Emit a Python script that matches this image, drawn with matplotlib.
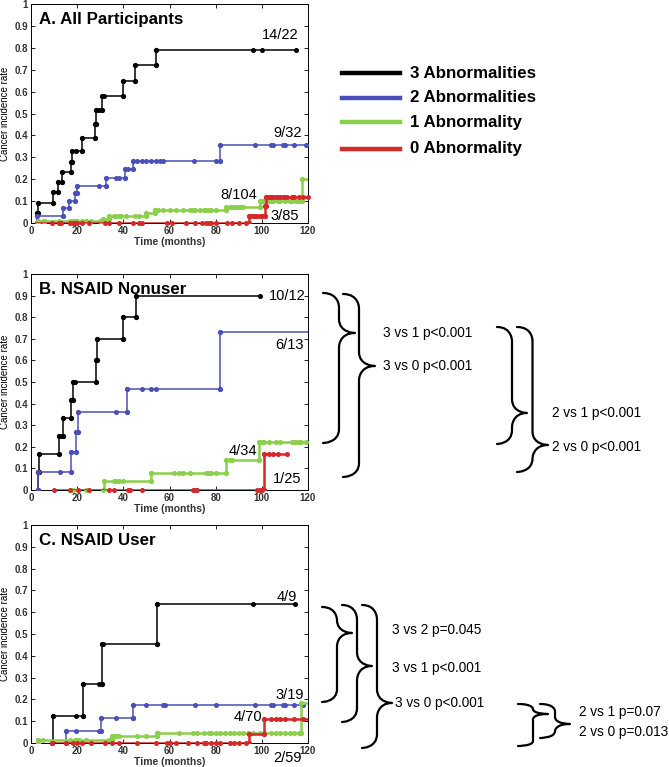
import numpy as np
import matplotlib
matplotlib.use("Agg")
import matplotlib.pyplot as plt
from matplotlib.path import Path
from matplotlib.patches import PathPatch
from matplotlib.lines import Line2D

plt.rcParams['font.family'] = ['Liberation Sans', 'DejaVu Sans']

# ---------------- data ----------------
group_labels = ["3 Abnormalities", "2 Abnormalities", "1 Abnormality", "0 Abnormality"]
group_colors = ["#000000", "#4b50b8", "#8ccf4d", "#d62828"]
panel_titles = ["A. All Participants", "B. NSAID Nonuser", "C. NSAID User"]
x_ticks = [0, 20, 40, 60, 80, 100, 120]
y_ticks = [0, 0.1, 0.2, 0.3, 0.4, 0.5, 0.6, 0.7, 0.8, 0.9, 1]
y_tick_labels = ["0", "0.1", "0.2", "0.3", "0.4", "0.5", "0.6", "0.7", "0.8", "0.9", "1"]

# Panel A: all participants
A3_start, A3_end = 2.5, 115
A3_times = [2.6, 3.0, 9.7, 11.8, 13.3, 17.2, 17.6, 22.0, 27.7, 28.1, 30.6, 39.7, 45.0, 54.0]
A3_rates = [0.045, 0.091, 0.14, 0.185, 0.235, 0.28, 0.33, 0.39, 0.45, 0.515, 0.58, 0.65, 0.72, 0.79]
A3_censor = [19.5, 29.5, 31.5, 96, 100, 115]

A2_start, A2_end = 2.5, 120
A2_times = [2.8, 14.0, 16.6, 19.0, 19.8, 32.5, 40.7, 44.0, 81.8]
A2_rates = [0.033, 0.067, 0.10, 0.135, 0.17, 0.205, 0.245, 0.285, 0.355]
A2_censor = [29.5, 37, 38, 42, 46, 48, 50, 52, 54, 56, 57, 70.5, 80, 97, 104, 105, 109, 110, 114, 119]

A1_start, A1_end = 2.5, 120
A1_times = [3.0, 31.0, 34.0, 50.0, 53.7, 84.4, 99.0, 117.5]
A1_rates = [0.01, 0.02, 0.03, 0.045, 0.058, 0.075, 0.10, 0.20]
A1_censor = [5, 6, 12, 17, 18, 19, 20, 22, 24, 26, 30, 36, 37, 38, 39, 41, 45, 47, 55, 57, 60, 63,
             66, 69, 70, 71, 73, 75, 76, 77, 78, 80, 86, 87, 88, 89, 90, 91, 92, 100, 101, 102,
             103, 104, 105, 107, 108, 110, 112, 113, 115, 116]

A0_start, A0_end = 2.5, 120
A0_times = [94.3, 101.2, 101.6]
A0_rates = [0.03, 0.078, 0.12]
A0_censor = [9, 12, 13, 17, 18, 19, 20, 22, 25, 32, 34, 38, 44, 47, 48, 59, 61, 67, 71, 74, 76, 77,
             78, 80, 85, 87, 90, 93, 95, 96, 97, 98, 99, 100, 103, 104, 105, 106, 107, 108, 109,
             110, 111, 113, 114, 116, 118, 120]

# Panel B: NSAID nonusers
B3_start, B3_end = 2.5, 99
B3_times = [2.9, 3.5, 12.3, 13.7, 17.3, 18.0, 28.0, 28.6, 39.7, 45.5]
B3_rates = [0.083, 0.167, 0.25, 0.333, 0.417, 0.5, 0.6, 0.7, 0.8, 0.9]
B3_censor = [13.5, 19, 99]

B2_start, B2_end = 2.5, 120
B2_times = [3.0, 17.3, 19.5, 20.5, 41.8, 82.0]
B2_rates = [0.085, 0.175, 0.27, 0.36, 0.467, 0.733]
B2_censor = [12.5, 37, 48, 52, 54]

B1_start, B1_end = 17, 120
B1_times = [31.7, 52.0, 84.3, 98.8]
B1_rates = [0.04, 0.08, 0.14, 0.22]
B1_censor = [17, 18, 20.5, 24, 31, 36, 37, 38, 40, 62, 64, 66, 69, 76, 77, 78, 80, 86, 87, 100,
             101, 103, 106, 108, 113, 114, 115, 116, 117, 119]

B0_start, B0_end = 10, 111
B0_times = [101.0]
B0_rates = [0.167]
B0_censor = [10, 17, 20.5, 25, 34, 36, 42, 43, 48, 70, 71, 72, 98, 99, 100, 103, 105, 107, 111]

# Panel C: NSAID users
C3_start, C3_end = 9, 114.5
C3_times = [9.7, 22.6, 30.9, 54.4]
C3_rates = [0.125, 0.27, 0.455, 0.636]
C3_censor = [9, 19.5, 29.5, 31, 96, 114.5]

C2_start, C2_end = 15, 118
C2_times = [15.2, 30.3, 44.3]
C2_rates = [0.055, 0.115, 0.175]
C2_censor = [15, 19.5, 29.5, 37, 44, 50, 57, 58, 71, 80, 97, 104, 105, 109, 110, 114, 117.5, 118]

C1_start, C1_end = 3, 120
C1_times = [3.0, 35.0, 54.4, 117.0]
C1_rates = [0.015, 0.03, 0.048, 0.185]
C1_censor = [5, 17, 19, 20, 21, 24, 34, 36, 37, 38, 46, 50, 55, 64, 70, 72, 75, 77, 78, 80, 82, 84,
             86, 88, 90, 92, 94, 96, 99, 101, 104, 106, 108, 110, 112, 114, 116]

C0_start, C0_end = 9, 120
C0_times = [94.5, 101.0]
C0_rates = [0.04, 0.108]
C0_censor = [9, 15, 18, 20, 22, 26, 32, 35, 38, 46, 54, 59, 60, 63, 68, 72, 75, 76, 78, 80, 82,
             86, 88, 90, 93, 104, 106, 108, 110, 114, 118]

# count labels: (text, x, y) in data coords
A_counts = [("14/22", 108, 0.86), ("9/32", 111, 0.41), ("8/104", 90, 0.13), ("3/85", 110, 0.03)]
B_counts = [("10/12", 111, 0.90), ("6/13", 112, 0.67), ("4/34", 92, 0.18), ("1/25", 111, 0.05)]
C_counts = [("4/9", 111, 0.67), ("3/19", 112, 0.22), ("4/70", 94, 0.12), ("2/59", 111, -0.07)]

# pairwise comparisons
B_tests = ["3 vs 1 p<0.001", "3 vs 0 p<0.001", "2 vs 1 p<0.001", "2 vs 0 p<0.001"]
C_tests = ["3 vs 2 p=0.045", "3 vs 1 p<0.001", "3 vs 0 p<0.001", "2 vs 1 p=0.07", "2 vs 0 p=0.013"]

panels = [
    [(A3_start, A3_end, A3_times, A3_rates, A3_censor),
     (A2_start, A2_end, A2_times, A2_rates, A2_censor),
     (A1_start, A1_end, A1_times, A1_rates, A1_censor),
     (A0_start, A0_end, A0_times, A0_rates, A0_censor)],
    [(B3_start, B3_end, B3_times, B3_rates, B3_censor),
     (B2_start, B2_end, B2_times, B2_rates, B2_censor),
     (B1_start, B1_end, B1_times, B1_rates, B1_censor),
     (B0_start, B0_end, B0_times, B0_rates, B0_censor)],
    [(C3_start, C3_end, C3_times, C3_rates, C3_censor),
     (C2_start, C2_end, C2_times, C2_rates, C2_censor),
     (C1_start, C1_end, C1_times, C1_rates, C1_censor),
     (C0_start, C0_end, C0_times, C0_rates, C0_censor)],
]
panel_counts = [A_counts, B_counts, C_counts]

# ---------------- figure ----------------
W, H = 669, 767
fig = plt.figure(figsize=(W / 100, H / 100), dpi=100)


def fx(px):
    return px / W


def fy(py):
    return 1 - py / H


axes_px = [(31, 308, 4, 223), (31, 308, 274, 490), (31, 308, 525, 743)]
line_widths = [1.1, 1.1, 1.8, 1.8]

for p, (l, r, t, b) in enumerate(axes_px):
    ax = fig.add_axes([fx(l), fy(b), fx(r - l), (b - t) / H])
    for g, (start, end, times, rates, cens) in enumerate(panels[p]):
        xs = [start] + list(times) + [end]
        ys = [0] + list(rates) + [rates[-1]]
        col = group_colors[g]
        ax.step(xs, ys, where='post', color=col, lw=line_widths[g], zorder=2 + g)
        # markers at jump corners
        prev = [0] + list(rates[:-1])
        mx = list(times) + list(times)
        my = list(prev) + list(rates)
        ax.plot(mx, my, ls='none', marker='o', ms=2.8, color=col, zorder=2 + g)
        # censoring marks
        cx = np.array(cens, dtype=float)
        idx = np.searchsorted(np.array(times), cx, side='right')
        allr = np.array([0] + list(rates))
        cy = allr[idx]
        ax.plot(cx, cy, ls='none', marker='o', ms=2.6, color=col, zorder=2 + g, clip_on=False)
    ax.set_xlim(0, 120)
    ax.set_ylim(0, 1)
    ax.set_xticks(x_ticks)
    ax.set_yticks(y_ticks)
    ax.set_yticklabels(y_tick_labels)
    ax.tick_params(direction='in', length=3, width=0.6, top=True, right=True,
                   labelsize=7, pad=2)
    for lab in ax.get_xticklabels() + ax.get_yticklabels():
        lab.set_fontweight('bold')
        lab.set_color('#333333')
    for s in ax.spines.values():
        s.set_linewidth(0.7)
    ax.set_ylabel("Cancer incidence rate", fontsize=7, labelpad=3)
    ax.set_xlabel("Time (months)", fontsize=7.5, fontweight='bold', labelpad=1, color='#333333')
    ax.text(0.03, 0.965, panel_titles[p], transform=ax.transAxes, fontsize=12.2,
            fontweight='bold', va='top', ha='left')
    for txt, x, y in panel_counts[p]:
        ax.text(x, y, txt, fontsize=10.5, ha='center', va='center', clip_on=False)

# legend (manual)
leg_y = [73, 98, 122, 149]
for g, lab in enumerate(group_labels):
    fig.add_artist(Line2D([fx(342), fx(400)], [fy(leg_y[g]), fy(leg_y[g])],
                          color=group_colors[g], lw=3.2))
    fig.text(fx(410), fy(leg_y[g]), lab, fontsize=12.2, fontweight='bold', va='center', ha='left')


def brace(x0, x1, ytop, ybot, ytip, lw=1.6):
    xm = (x0 + x1) / 2.0
    r = min(14.0, (ytip - ytop) / 2.0, (ybot - ytip) / 2.0)
    pts = [(x0, ytop), (xm, ytop), (xm, ytop + r), (xm, ytop + r),
           (xm, ytip - r),
           (xm, ytip), (x1, ytip), (x1, ytip),
           (xm, ytip), (xm, ytip + r), (xm, ytip + r),
           (xm, ybot - r),
           (xm, ybot), (x0, ybot), (x0, ybot)]
    codes = [Path.MOVETO, Path.CURVE4, Path.CURVE4, Path.CURVE4,
             Path.LINETO,
             Path.CURVE4, Path.CURVE4, Path.CURVE4,
             Path.CURVE4, Path.CURVE4, Path.CURVE4,
             Path.LINETO,
             Path.CURVE4, Path.CURVE4, Path.CURVE4]
    verts = [(fx(x), fy(y)) for x, y in pts]
    patch = PathPatch(Path(verts, codes), fill=False, lw=lw, color='black',
                      transform=fig.transFigure, capstyle='round', joinstyle='round')
    fig.add_artist(patch)


fs_t = 9.8
# Panel B braces and tests
brace(323, 355, 293, 443, 333)
brace(343, 375, 294, 477, 366)
brace(497, 527, 327, 444, 413)
brace(517, 548, 327, 472, 445)
fig.text(fx(383), fy(333), B_tests[0], fontsize=fs_t, va='center', ha='left')
fig.text(fx(383), fy(366), B_tests[1], fontsize=fs_t, va='center', ha='left')
fig.text(fx(552), fy(413), B_tests[2], fontsize=fs_t, va='center', ha='left')
fig.text(fx(552), fy(447), B_tests[3], fontsize=fs_t, va='center', ha='left')

# Panel C braces and tests
brace(322, 352, 607, 702, 633)
brace(342, 372, 605, 722, 666)
brace(362, 392, 605, 748, 703)
brace(518, 548, 704, 746, 714)
brace(540, 570, 704, 738, 724)
fig.text(fx(392), fy(630), C_tests[0], fontsize=fs_t, va='center', ha='left')
fig.text(fx(392), fy(668), C_tests[1], fontsize=fs_t, va='center', ha='left')
fig.text(fx(395), fy(703), C_tests[2], fontsize=fs_t, va='center', ha='left')
fig.text(fx(579), fy(712), C_tests[3], fontsize=fs_t, va='center', ha='left')
fig.text(fx(579), fy(732), C_tests[4], fontsize=fs_t, va='center', ha='left')

fig.savefig("out.png", dpi=100)
